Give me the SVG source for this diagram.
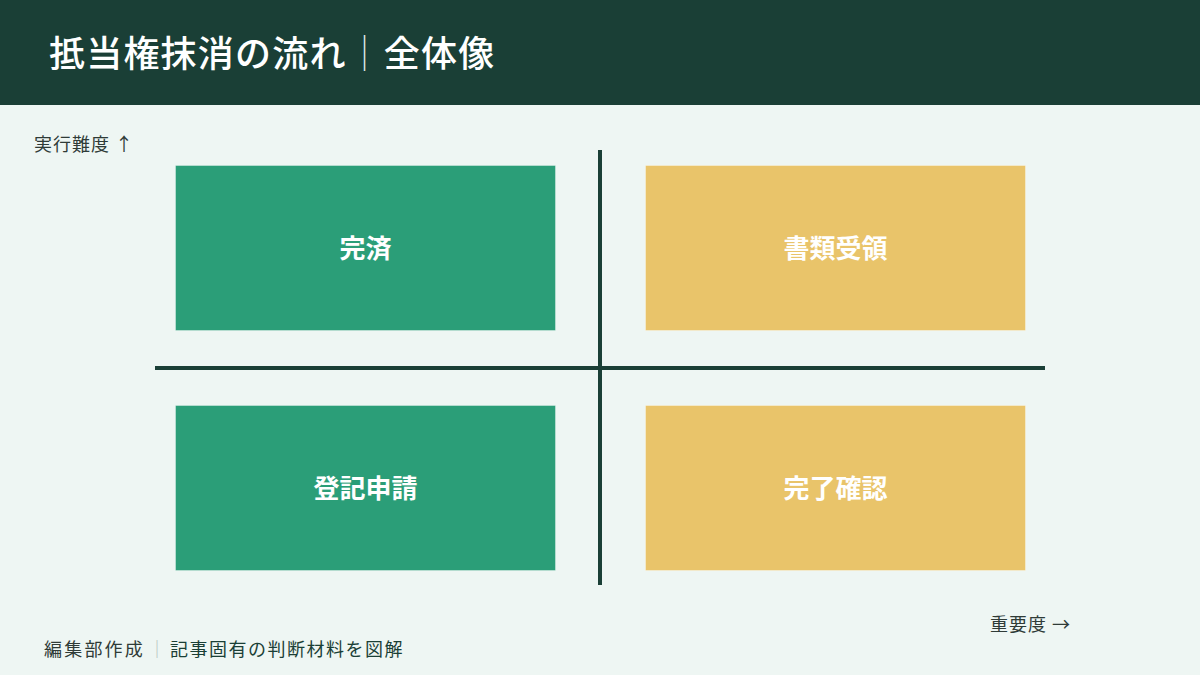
<svg xmlns="http://www.w3.org/2000/svg" width="1200" height="675" viewBox="0 0 1200 675">
<style>
.cjk{font-family:"Noto Sans CJK JP","Noto Sans CJK SC",sans-serif}
.lbl{font-size:26px;font-weight:700;fill:#ffffff;text-anchor:middle;dominant-baseline:central}
.g{fill:#2b9e78;stroke:#ffffff;stroke-opacity:0.35;stroke-width:1}
.y{fill:#e9c46a;stroke:#ffffff;stroke-opacity:0.35;stroke-width:1}
.axis{stroke:#1a3f36;stroke-width:4}
.ax{font-size:18px;fill:#2f3b37;letter-spacing:1px}
.ft{font-size:18px}
</style>
<rect x="0" y="0" width="1200" height="675" fill="#eef6f3"/>
<g id="header">
<rect x="0" y="0" width="1200" height="105" fill="#1a3f36"/>
<text class="cjk" x="49" y="67" font-size="36" font-weight="500" fill="#ffffff" letter-spacing="1.2">抵当権抹消の流れ<tspan font-weight="300" fill="#dfe9e5">｜</tspan>全体像</text>
</g>
<g id="connectors">
<line class="axis" x1="600" y1="150" x2="600" y2="585"/>
<line class="axis" x1="155" y1="368" x2="1045" y2="368"/>
</g>
<g id="node-kansai">
<rect class="g" x="175.5" y="165.5" width="380" height="165"/>
<text class="cjk lbl" x="365.5" y="246">完済</text>
</g>
<g id="node-shorui">
<rect class="y" x="645.5" y="165.5" width="380" height="165"/>
<text class="cjk lbl" x="835.5" y="246">書類受領</text>
</g>
<g id="node-touki">
<rect class="g" x="175.5" y="405.5" width="380" height="165"/>
<text class="cjk lbl" x="365.5" y="486">登記申請</text>
</g>
<g id="node-kanryo">
<rect class="y" x="645.5" y="405.5" width="380" height="165"/>
<text class="cjk lbl" x="835.5" y="486">完了確認</text>
</g>
<g id="axis-labels">
<text class="cjk ax" x="34" y="151">実行難度 ↑</text>
<text class="cjk ax" x="990" y="631">重要度 →</text>
</g>
<g id="footer">
<text class="cjk ft" x="44" y="656" fill="#2f3b37" letter-spacing="2.2">編集部作成</text>
<text class="cjk ft" x="157" y="656" fill="#b5c4bf" text-anchor="middle">｜</text>
<text class="cjk ft" x="170" y="656" fill="#1a3f36" letter-spacing="1.5">記事固有の判断材料を図解</text>
</g>
</svg>
